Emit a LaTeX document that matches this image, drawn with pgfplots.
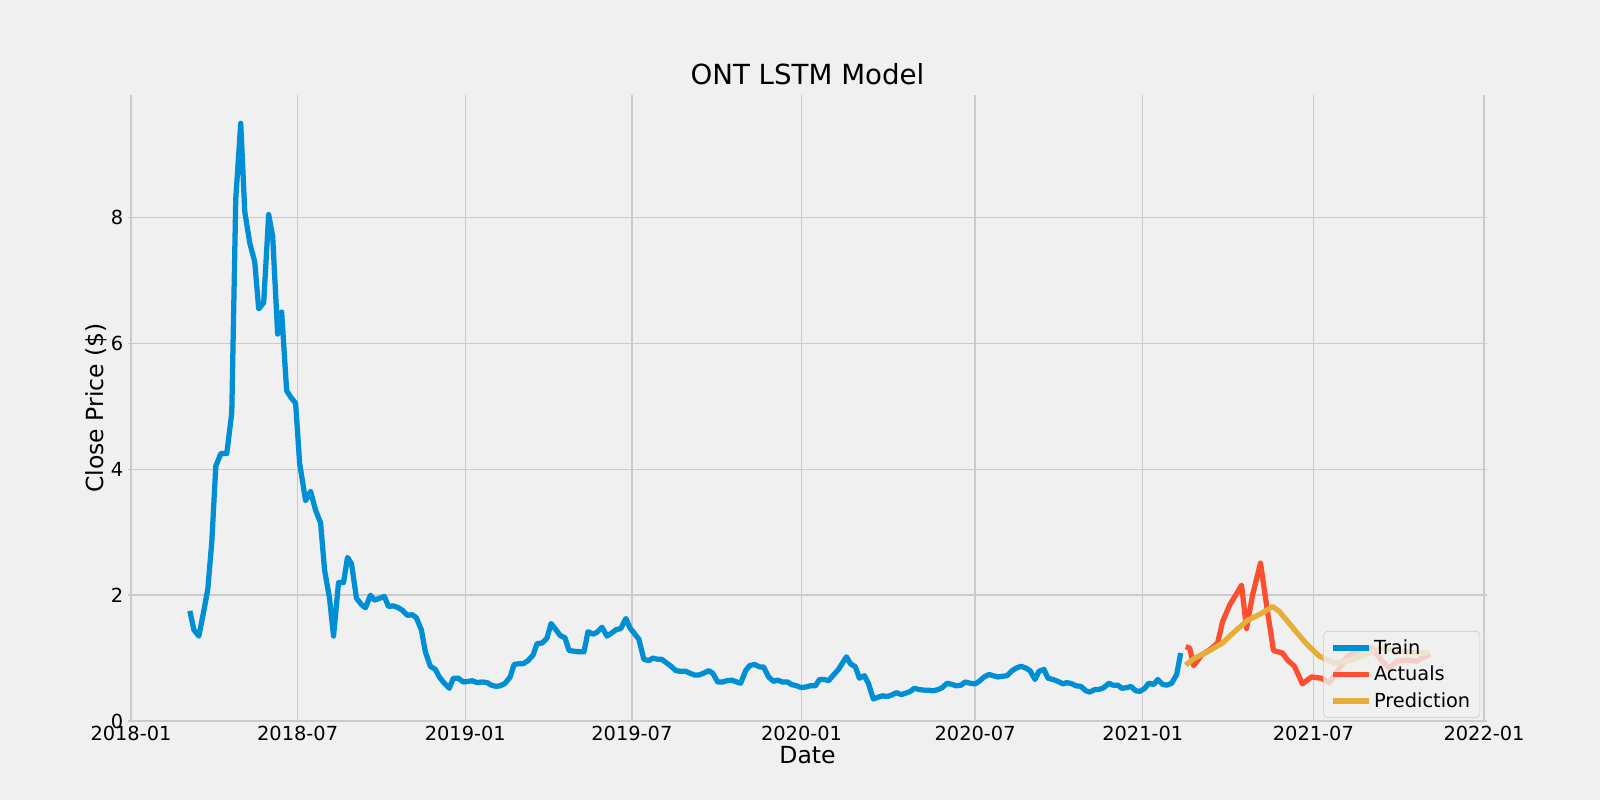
\documentclass[border=0pt]{standalone}
\usepackage{pgfplots}
\pgfplotsset{compat=1.18}
\usepackage{fontspec}
\setmainfont{DejaVu Sans}
\definecolor{bg}{HTML}{F0F0F0}
\definecolor{trainc}{HTML}{008FD5}
\definecolor{actc}{HTML}{FC4F30}
\definecolor{predc}{HTML}{E5AE38}
\definecolor{gridc}{HTML}{CBCBCB}
\begin{document}
\begin{tikzpicture}[x=1in,y=1in]
\fill[bg] (0,0) rectangle (16,8);
\begin{axis}[
  at={(1.28in,0.79in)}, anchor=south west,
  scale only axis, width=13.59in, height=6.26in,
  xmin=125, xmax=1487, ymin=0, ymax=9.95,
  axis line style={draw=none}, major tick length=0pt,
  grid=major, grid style={gridc, line width=1pt},
  xtick={128,295,463,630,800,974,1142,1313,1484},
  xticklabels={2018-01,2018-07,2019-01,2019-07,2020-01,2020-07,2021-01,2021-07,2022-01},
  ytick={0,2,4,6,8},
  ticklabel style={font=\fontsize{14}{16}\selectfont},
  /pgf/number format/assume math mode=true,
  xlabel={Date}, ylabel={Close Price (\$)},
  label style={font=\fontsize{17}{20}\selectfont},
  xlabel style={yshift=3pt}, ylabel style={yshift=-4pt},
  title={ONT LSTM Model}, title style={font=\fontsize{20}{24}\selectfont, yshift=-2pt},
  legend style={at={(rel axis cs:0.995,0.005)}, anchor=south east, fill=bg, fill opacity=0.8, text opacity=1, draw=gridc, rounded corners=3pt, font=\fontsize{14}{16}\selectfont, row sep=3pt, inner xsep=5pt, inner ysep=4pt},
  legend image code/.code={\draw[#1] (0cm,0cm) -- (0.9cm,0cm);},
  legend cell align=left,
  every axis plot/.append style={line width=3.8pt, line join=round},
]
\addplot[trainc] coordinates {
(187,1.75)(191,1.45)(196,1.35)(201,1.75)(205,2.1)(209,2.85)(213,4.05)(218,4.25)(224,4.25)(229,4.9)(233,8.3)(238,9.5)(242,8.1)(247,7.6)(252,7.3)(256,6.55)(261,6.65)(266,8.05)(270,7.7)(275,6.15)(279,6.5)(284,5.25)(288,5.15)(293,5.05)(297,4.1)(303,3.5)(308,3.65)(313,3.35)(318,3.15)(322,2.4)(327,1.95)(331,1.35)(336,2.2)(341,2.2)(345,2.6)(349,2.5)(354,1.95)(359,1.85)(363,1.8)(368,2.0)(372,1.92)(377,1.95)(382,1.98)(386,1.82)(391,1.83)(396,1.8)(400,1.76)(405,1.68)(410,1.69)(414,1.64)(419,1.45)(423,1.1)(428,0.87)(433,0.82)(437,0.7)(442,0.6)(447,0.52)(451,0.68)(456,0.68)(461,0.62)(466,0.63)(470,0.64)(475,0.61)(480,0.62)(485,0.61)(489,0.57)(494,0.55)(498,0.56)(503,0.6)(508,0.7)(512,0.9)(517,0.91)(521,0.91)(526,0.96)(531,1.05)(535,1.23)(540,1.24)(545,1.32)(549,1.55)(554,1.45)(558,1.36)(563,1.32)(567,1.12)(572,1.11)(577,1.1)(582,1.1)(586,1.42)(591,1.38)(595,1.41)(600,1.49)(605,1.35)(609,1.39)(614,1.45)(619,1.47)(624,1.63)(628,1.48)(633,1.38)(637,1.3)(642,0.98)(647,0.96)(651,1.0)(656,0.98)(660,0.98)(665,0.92)(670,0.86)(674,0.8)(679,0.79)(684,0.79)(688,0.76)(693,0.73)(697,0.73)(702,0.76)(707,0.8)(711,0.76)(716,0.62)(721,0.62)(725,0.64)(730,0.65)(735,0.62)(739,0.6)(744,0.8)(748,0.88)(753,0.9)(758,0.86)(762,0.86)(767,0.7)(772,0.63)(776,0.65)(781,0.62)(786,0.62)(790,0.58)(795,0.56)(800,0.53)(804,0.54)(809,0.56)(814,0.56)(818,0.66)(823,0.66)(827,0.64)(832,0.73)(837,0.82)(841,0.92)(845,1.02)(849,0.91)(854,0.86)(858,0.68)(863,0.72)(867,0.6)(872,0.35)(877,0.38)(881,0.4)(886,0.39)(890,0.41)(895,0.45)(900,0.42)(904,0.44)(909,0.47)(913,0.52)(918,0.5)(923,0.49)(927,0.49)(932,0.48)(937,0.5)(941,0.53)(946,0.6)(951,0.58)(955,0.56)(960,0.57)(964,0.62)(969,0.6)(974,0.59)(978,0.63)(983,0.7)(988,0.74)(992,0.72)(997,0.7)(1001,0.71)(1006,0.72)(1011,0.8)(1015,0.84)(1020,0.87)(1025,0.84)(1029,0.8)(1034,0.66)(1038,0.79)(1043,0.82)(1047,0.68)(1052,0.66)(1057,0.63)(1062,0.59)(1066,0.61)(1071,0.59)(1075,0.56)(1080,0.55)(1085,0.48)(1089,0.46)(1094,0.5)(1098,0.5)(1103,0.53)(1108,0.6)(1112,0.57)(1117,0.57)(1121,0.52)(1126,0.53)(1130,0.55)(1135,0.48)(1139,0.47)(1144,0.52)(1148,0.6)(1153,0.58)(1157,0.66)(1162,0.58)(1166,0.57)(1171,0.6)(1176,0.74)(1180,1.08)
};
\addlegendentry{Train}
\addplot[actc] coordinates {
(1185,1.18)(1189,1.16)(1193,0.88)(1201,1.05)(1209,1.13)(1217,1.24)(1222,1.58)(1229,1.84)(1237,2.05)(1241,2.16)(1246,1.47)(1252,2.0)(1260,2.51)(1267,1.74)(1273,1.12)(1282,1.08)(1287,0.97)(1294,0.87)(1302,0.59)(1311,0.7)(1321,0.68)(1329,0.61)(1337,0.79)(1347,1.03)(1359,1.13)(1371,1.16)(1377,1.05)(1382,0.95)(1389,0.84)(1397,0.95)(1407,0.97)(1417,0.95)(1422,1.0)(1430,1.06)
};
\addlegendentry{Actuals}
\addplot[predc] coordinates {
(1185,0.89)(1194,1.0)(1207,1.1)(1222,1.24)(1234,1.42)(1247,1.6)(1261,1.71)(1272,1.82)(1279,1.74)(1294,1.45)(1307,1.21)(1319,1.03)(1334,0.92)(1347,0.95)(1364,1.05)(1381,1.16)(1394,1.13)(1407,1.09)(1429,1.08)
};
\addlegendentry{Prediction}
\end{axis}
\pgfresetboundingbox
\useasboundingbox (0,0) rectangle (16,8);
\end{tikzpicture}
\end{document}
